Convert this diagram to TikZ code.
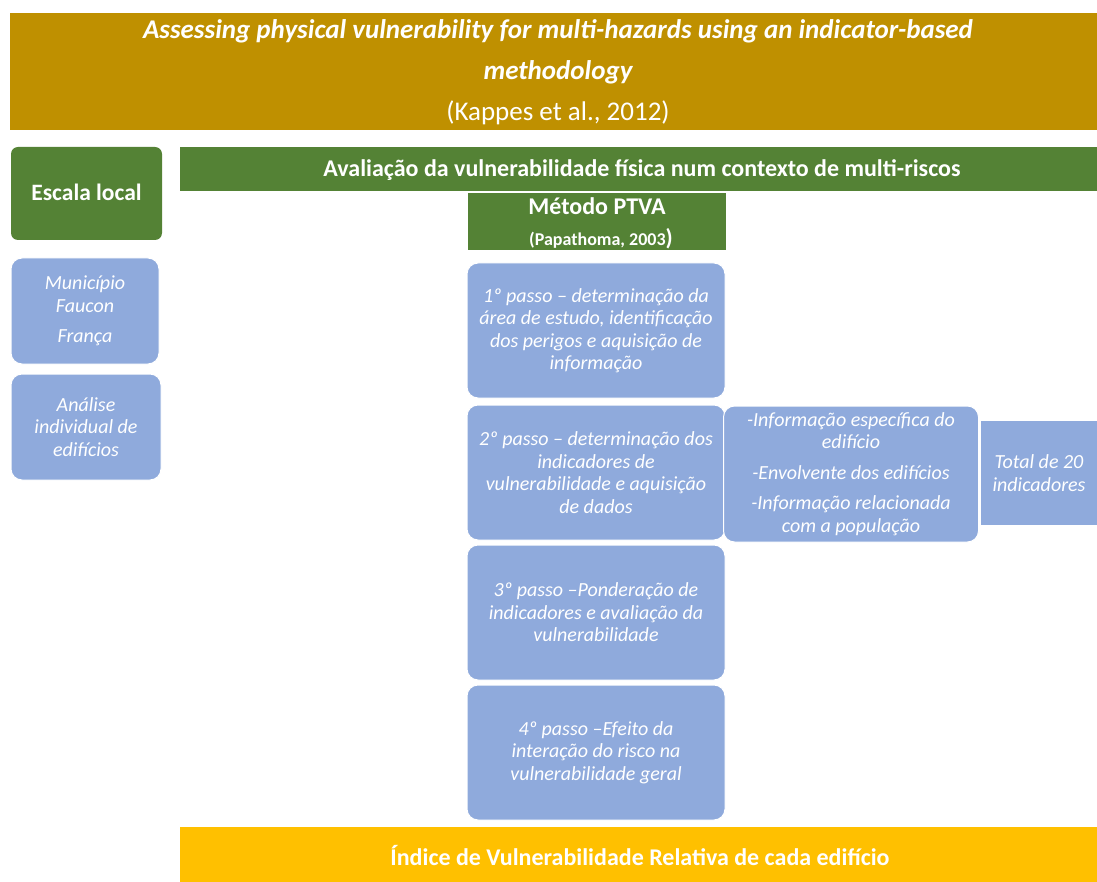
\documentclass[tikz,border=0pt]{standalone}
\usepackage{fontspec}
\setmainfont{Carlito}
\definecolor{titlegold}{HTML}{BF9000}
\definecolor{leafgreen}{HTML}{548235}
\definecolor{stepblue}{HTML}{8FAADC}
\definecolor{amber}{HTML}{FFC000}
\begin{document}
\begin{tikzpicture}[x=1pt,y=-1pt,
  band/.style={inner sep=0pt, outer sep=0pt, anchor=north west},
  label/.style={text=white, inner sep=0pt},
  bluebox/.style={draw=white, line width=1pt, fill=stepblue, rounded corners=11pt,
    text=white, align=center, inner sep=0pt,
    font=\fontsize{20}{22.5}\selectfont\itshape},
]
\useasboundingbox (0,0) rectangle (1097,882);

% title band
\node[band, fill=titlegold, minimum width=1087pt, minimum height=117pt] (title) at (10,13) {};
\node[label, font=\fontsize{27}{31}\selectfont\bfseries\itshape] (t1) at (558,31)
  {Assessing physical vulnerability for multi-hazards using an indicator-based};
\node[label, font=\fontsize{27}{31}\selectfont\bfseries\itshape] (t2) at (558,72) {methodology};
\node[label, font=\fontsize{27}{31}\selectfont] (t3) at (558,113) {(Kappes et al., 2012)};

% scale header
\node[band, fill=leafgreen, rounded corners=7pt, minimum width=151pt, minimum height=93pt] (scale) at (11,147) {};
\node[label, font=\fontsize{23.5}{27}\selectfont\bfseries] (scaletxt) at (86.5,192) {Escala local};

% main green band
\node[band, fill=leafgreen, minimum width=917pt, minimum height=44pt] (main) at (180,147) {};
\node[label, font=\fontsize{24}{28}\selectfont\bfseries] (maintxt) at (642,170)
  {Avaliação da vulnerabilidade física num contexto de multi-riscos};

% PTVA method box
\node[band, fill=leafgreen, minimum width=258pt, minimum height=57pt] (ptva) at (468,193) {};
\node[label, font=\fontsize{24}{28}\selectfont\bfseries] (ptva1) at (597,206) {Método PTVA};
\node[label, font=\fontsize{18}{21}\selectfont\bfseries] (ptva2) at (601,239)
  {(Papathoma, 2003{\fontsize{23}{26}\selectfont)}};

% left study boxes
\node[bluebox, minimum width=148pt, minimum height=106pt] (place) at (85,311)
  {Município\\Faucon\\[8pt]França};
\node[bluebox, minimum width=150pt, minimum height=106pt] (unit) at (86,427)
  {Análise\\individual de\\edifícios};

% method steps
\node[bluebox, minimum width=258pt, minimum height=135pt] (s1) at (596,330.5)
  {1º passo – determinação da\\área de estudo, identificação\\dos perigos e aquisição de\\informação};
\node[bluebox, minimum width=258pt, minimum height=135pt] (s2) at (596,472.5)
  {2º passo – determinação dos\\indicadores de\\vulnerabilidade e aquisição\\de dados};
\node[bluebox, minimum width=258pt, minimum height=135pt] (s3) at (596,612.5)
  {3º passo –Ponderação de\\indicadores e avaliação da\\vulnerabilidade};
\node[bluebox, minimum width=258pt, minimum height=135pt] (s4) at (596,752.5)
  {4º passo –Efeito da\\interação do risco na\\vulnerabilidade geral};

% indicator groups
\node[bluebox, minimum width=255pt, minimum height=136pt] (groups) at (851,474)
  {-Informação específica do\\edifício\\[8pt]-Envolvente dos edifícios\\[8pt]-Informação relacionada\\com a população};
\node[bluebox, rounded corners=0pt, anchor=north west, minimum width=117pt, minimum height=105pt] (total) at (980,420)
  {Total de 20\\indicadores};

% result band
\node[band, fill=amber, minimum width=917pt, minimum height=55pt] (result) at (180,827) {};
\node[label, font=\fontsize{24}{28}\selectfont\bfseries] (resulttxt) at (640,856)
  {Índice de Vulnerabilidade Relativa de cada edifício};
\end{tikzpicture}
\end{document}
